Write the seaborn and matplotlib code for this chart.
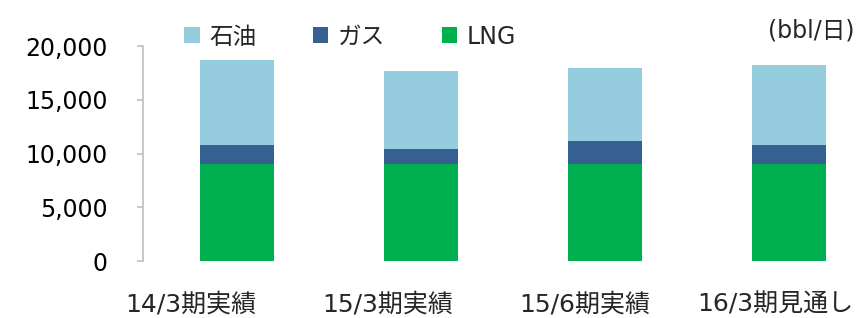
import pandas as pd
import seaborn as sns
import matplotlib.pyplot as plt
import matplotlib.transforms as mtransforms
from matplotlib.patches import Patch

# データ (bbl/日)
categories = ['14/3期実績', '15/3期実績', '15/6期実績', '16/3期見通し']
lng = [9000, 9000, 9000, 9000]
gas = [1800, 1400, 2150, 1800]
oil = [7950, 7250, 6850, 7400]

series_names = ['石油', 'ガス', 'LNG']
colors = {'石油': '#96CDDE', 'ガス': '#366092', 'LNG': '#00B050'}

sns.set_style('white')
plt.rcParams['font.family'] = ['DejaVu Sans', 'Noto Sans CJK JP']

df = pd.DataFrame({'区分': categories, 'LNG': lng, 'ガス': gas, '石油': oil})
df['LNG_top'] = df['LNG']
df['ガス_top'] = df['LNG'] + df['ガス']
df['石油_top'] = df['ガス_top'] + df['石油']

fig = plt.figure(figsize=(8.61, 3.18), dpi=100)
ax = fig.add_axes([0.166, 0.179, 0.834, 0.676])

# 積み上げ: 上のものから順に描く
for name in ['石油', 'ガス', 'LNG']:
    sns.barplot(data=df, x='区分', y=name + '_top', color=colors[name],
                width=0.4, saturation=1, ax=ax, edgecolor='none')

ax.set_ylim(0, 20000)
ax.set_xlim(-0.51, 3.39)
ax.set_yticks([0, 5000, 10000, 15000, 20000])
ax.set_yticklabels([f'{v:,}' for v in [0, 5000, 10000, 15000, 20000]])
ax.set_xlabel('')
ax.set_ylabel('')

for s in ['top', 'right', 'bottom']:
    ax.spines[s].set_visible(False)
ax.spines['left'].set_color('#BFBFBF')
ax.spines['left'].set_linewidth(1.2)
ax.tick_params(axis='y', which='both', left=True, length=4.5, width=1.2,
               color='#BFBFBF', pad=21, labelsize=17, labelcolor='#000000')
ax.tick_params(axis='x', bottom=False, labelsize=18, pad=19)

# カテゴリラベルの位置を元図に合わせて少し左へ
shifts = [-46, -33, -20, -14]
for lab, dx in zip(ax.get_xticklabels(), shifts):
    lab.set_transform(lab.get_transform() +
                      mtransforms.ScaledTranslation(dx / 100, 0, fig.dpi_scale_trans))

handles = [Patch(facecolor=colors[n], edgecolor='none') for n in series_names]
fig.legend(handles, series_names, loc='center left', bbox_to_anchor=(0.214, 0.885),
           ncol=3, frameon=False, fontsize=17, handlelength=0.65, handleheight=0.65,
           handletextpad=0.4, columnspacing=2.4, borderaxespad=0, borderpad=0)

fig.text(0.993, 0.905, '(bbl/日)', ha='right', va='center', fontsize=17)

fig.savefig('out.png', dpi=100)
